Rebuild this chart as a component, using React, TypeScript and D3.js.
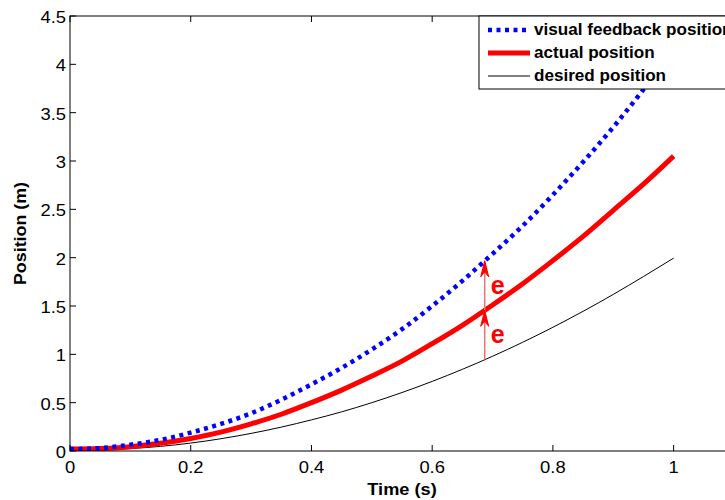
import React from "react";
import * as d3 from "d3";

const times = [0, 0.05, 0.1, 0.15, 0.2, 0.25, 0.3, 0.35, 0.4, 0.45, 0.5, 0.55, 0.6, 0.65, 0.7, 0.75, 0.8, 0.85, 0.9, 0.95, 1.0];
const desired = [0.01, 0.012, 0.025, 0.048, 0.082, 0.127, 0.182, 0.247, 0.322, 0.405, 0.5, 0.605, 0.72, 0.845, 0.98, 1.125, 1.28, 1.445, 1.62, 1.805, 1.995];
const actual = [0.02, 0.025, 0.045, 0.08, 0.13, 0.195, 0.28, 0.38, 0.5, 0.63, 0.775, 0.93, 1.11, 1.3, 1.51, 1.73, 1.97, 2.22, 2.49, 2.76, 3.05];
const visual = [0.02, 0.03, 0.065, 0.115, 0.19, 0.28, 0.39, 0.53, 0.69, 0.86, 1.05, 1.26, 1.5, 1.76, 2.04, 2.33, 2.65, 2.99, 3.35, 3.74, 4.15];
const xTicks = [0, 0.2, 0.4, 0.6, 0.8, 1];
const yTicks = [0, 0.5, 1, 1.5, 2, 2.5, 3, 3.5, 4, 4.5];
const legendLabels = ["visual feedback position", "actual position", "desired position"];
const errorTime = 0.687;
const errorLabel = "e";

const W = 725, H = 500;
const left = 70, right = 734, top = 16, bottom = 451;

export default function App() {
  const x = d3.scaleLinear().domain([0, 1.1]).range([left, right]);
  const y = d3.scaleLinear().domain([0, 4.5]).range([bottom, top]);
  const mk = (vals: number[]) =>
    d3.line<number>().x((_, i) => x(times[i])).y((v) => y(v)).curve(d3.curveMonotoneX)(vals) || "";

  const interp = (vals: number[], t: number) => {
    const i = d3.bisectLeft(times, t);
    const t0 = times[i - 1], t1 = times[i];
    const f = (t - t0) / (t1 - t0);
    return vals[i - 1] + f * (vals[i] - vals[i - 1]);
  };
  const ax = x(errorTime);
  const yBlack = y(interp(desired, errorTime));
  const yRed = y(interp(actual, errorTime));
  const yBlue = y(interp(visual, errorTime));
  const head = (tipY: number) =>
    `M${ax},${tipY} L${ax - 4},${tipY + 16} L${ax},${tipY + 11} L${ax + 4},${tipY + 16} Z`;

  const font = "Arial, 'Liberation Sans', Helvetica, sans-serif";
  const legX = 479, legY = 16, legH = 73;
  const rows = [30, 53, 76];
  const tickSX = 1.15;

  return (
    <svg width={W} height={H} style={{ position: "absolute", left: 0, top: 0, background: "#fff" }} fontFamily={font}>
      <defs>
        <clipPath id="plot">
          <rect x={left} y={top} width={right - left} height={bottom - top} />
        </clipPath>
      </defs>
      <rect x={0} y={0} width={W} height={H} fill="#fff" />
      <g clipPath="url(#plot)">
        <path d={mk(desired)} fill="none" stroke="#000" strokeWidth={1} />
        <path d={mk(actual)} fill="none" stroke="#ff0000" strokeWidth={5} />
        <path d={mk(visual)} fill="none" stroke="#0000ff" strokeWidth={4.5} strokeDasharray="4 4.5" />
      </g>
      {/* error arrows */}
      <line x1={ax} x2={ax} y1={yBlack} y2={yBlue} stroke="#f07070" strokeWidth={1.5} />
      <path d={head(yBlue)} fill="#ff0000" stroke="#ff0000" strokeWidth={1} />
      <path d={head(yRed)} fill="#ff0000" stroke="#ff0000" strokeWidth={1} />
      <text x={ax + 6} y={(yBlue + yRed) / 2 + 8} fill="#ff0000" fontWeight="bold" fontSize={25}>{errorLabel}</text>
      <text x={ax + 6} y={(yRed + yBlack) / 2 + 8} fill="#ff0000" fontWeight="bold" fontSize={25}>{errorLabel}</text>
      {/* axes box */}
      <rect x={left} y={top} width={right - left} height={bottom - top} fill="none" stroke="#000" strokeWidth={1} />
      {xTicks.map((t) => (
        <g key={"x" + t}>
          <line x1={x(t)} x2={x(t)} y1={bottom} y2={bottom - 6} stroke="#000" />
          <line x1={x(t)} x2={x(t)} y1={top} y2={top + 6} stroke="#000" />
          <text transform={`translate(${x(t)},${bottom + 22}) scale(${tickSX},1)`} textAnchor="middle" fontSize={16}>{t}</text>
        </g>
      ))}
      {yTicks.map((v) => (
        <g key={"y" + v}>
          <line x1={left} x2={left + 6} y1={y(v)} y2={y(v)} stroke="#000" />
          <text transform={`translate(${left - 4},${y(v) + 7}) scale(${tickSX},1)`} textAnchor="end" fontSize={16}>{v}</text>
        </g>
      ))}
      <text transform={`translate(${(left + right) / 2},495) scale(1.07,1)`} textAnchor="middle" fontSize={17} fontWeight="bold">Time (s)</text>
      <text transform={`translate(26,${(top + bottom) / 2}) rotate(-90) scale(1.05,1)`} textAnchor="middle" fontSize={17} fontWeight="bold">Position (m)</text>
      {/* legend */}
      <rect x={legX} y={legY} width={300} height={legH} fill="#fff" stroke="#000" strokeWidth={1} />
      <line x1={488} x2={526} y1={rows[0]} y2={rows[0]} stroke="#0000ff" strokeWidth={4.5} strokeDasharray="4 4.5" />
      <line x1={488} x2={530} y1={rows[1]} y2={rows[1]} stroke="#ff0000" strokeWidth={5} />
      <line x1={488} x2={530} y1={rows[2]} y2={rows[2]} stroke="#000" strokeWidth={1} />
      {legendLabels.map((l, i) => (
        <text key={l} transform={`translate(534,${rows[i] + 5}) scale(1.07,1)`} fontSize={16} fontWeight="bold">{l}</text>
      ))}
    </svg>
  );
}
